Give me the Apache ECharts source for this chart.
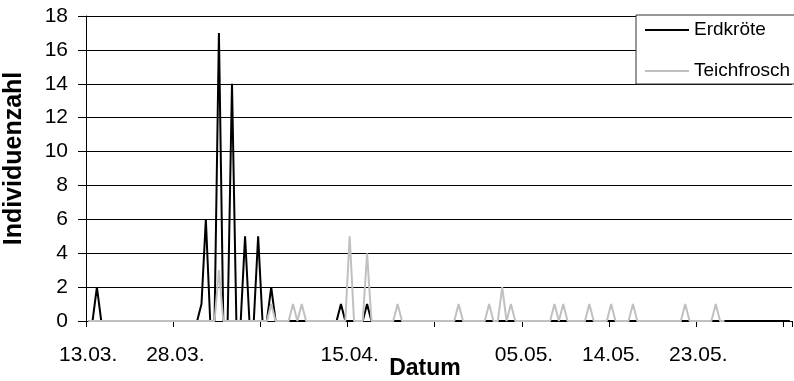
<!DOCTYPE html>
<html>
<head>
<meta charset="utf-8">
<script src="https://cdn.jsdelivr.net/npm/echarts@6/dist/echarts.min.js"></script>
<style>
  html, body { margin: 0; padding: 0; background: #fff; }
  #chart { width: 794px; height: 381px; }
</style>
</head>
<body>
<div id="chart"></div>
<script>
// labels under every 20th category (tick marks)
var tickLabels = ["13.03.", "28.03.", "", "15.04.", "", "05.05.", "14.05.", "23.05.", ""];

// one value per category, 20 per row
var erdkroete = [
  0, 0, 2, 0, 0, 0, 0, 0, 0, 0, 0, 0, 0, 0, 0, 0, 0, 0, 0, 0,
  0, 0, 0, 0, 0, 0, 1, 6, 0, 0, 17, 0, 0, 14, 0, 0, 5, 0, 0, 5,
  0, 0, 2, 0, 0, 0, 0, 0, 0, 0, 0, 0, 0, 0, 0, 0, 0, 0, 1, 0,
  0, 0, 0, 0, 1, 0, 0, 0, 0, 0, 0, 0, 0, 0, 0, 0, 0, 0, 0, 0,
  0, 0, 0, 0, 0, 0, 0, 0, 0, 0, 0, 0, 0, 0, 0, 0, 0, 0, 0, 0,
  0, 0, 0, 0, 0, 0, 0, 0, 0, 0, 0, 0, 0, 0, 0, 0, 0, 0, 0, 0,
  0, 0, 0, 0, 0, 0, 0, 0, 0, 0, 0, 0, 0, 0, 0, 0, 0, 0, 0, 0,
  0, 0, 0, 0, 0, 0, 0, 0, 0, 0, 0, 0, 0, 0, 0, 0, 0, 0, 0, 0,
  0, 0
];
var teichfrosch = [
  0, 0, 0, 0, 0, 0, 0, 0, 0, 0, 0, 0, 0, 0, 0, 0, 0, 0, 0, 0,
  0, 0, 0, 0, 0, 0, 0, 0, 0, 0, 3, 0, 0, 0, 0, 0, 0, 0, 0, 0,
  0, 0, 1, 0, 0, 0, 0, 1, 0, 1, 0, 0, 0, 0, 0, 0, 0, 0, 0, 0,
  5, 0, 0, 0, 4, 0, 0, 0, 0, 0, 0, 1, 0, 0, 0, 0, 0, 0, 0, 0,
  0, 0, 0, 0, 0, 1, 0, 0, 0, 0, 0, 0, 1, 0, 0, 2, 0, 1, 0, 0,
  0, 0, 0, 0, 0, 0, 0, 1, 0, 1, 0, 0, 0, 0, 0, 1, 0, 0, 0, 0,
  1, 0, 0, 0, 0, 1, 0, 0, 0, 0, 0, 0, 0, 0, 0, 0, 0, 1, 0, 0,
  0, 0, 0, 0, 1, 0, 0
];
var categories = erdkroete.map(function (v, i) { return String(i); });

var font = "Liberation Sans, Arial, sans-serif";
var chart = echarts.init(document.getElementById("chart"));

var option = {
  animation: false,
  textStyle: { fontFamily: font, color: "#000" },
  legend: {
    orient: "vertical",
    left: 636,
    top: 15,
    padding: [5, 60, 3, 9],
    itemGap: 21,
    itemWidth: 44,
    itemHeight: 2,
    icon: "rect",
    backgroundColor: "#fff",
    borderColor: "#333",
    borderWidth: 1,
    borderRadius: 0,
    textStyle: { fontFamily: font, fontSize: 19, color: "#000", lineHeight: 20 },
    data: ["Erdkröte", "Teichfrosch"],
  },
  grid: {
    left: 86,
    top: 16,
    right: 2,
    bottom: 60,
    containLabel: false,
    outerBoundsMode: "none",
  },
  xAxis: {
    type: "category",
    boundaryGap: true,
    data: categories,
    name: "Datum",
    nameLocation: "middle",
    nameGap: 36,
    nameMoveOverlap: false,
    nameTextStyle: {
      fontFamily: font,
      fontSize: 23,
      fontWeight: "bold",
      color: "#000",
      padding: [0, 28, 0, 0],
    },
    axisLine: { show: true, lineStyle: { color: "#000", width: 1 } },
    axisTick: {
      show: true,
      length: 6,
      interval: function (index) { return index % 20 === 0; },
      lineStyle: { color: "#000" },
    },
    axisLabel: {
      show: true,
      margin: 24,
      fontSize: 21,
      color: "#000",
      interval: function (index) { return index % 20 === 0; },
      formatter: function (value, index) { return tickLabels[index / 20] || ""; },
    },
    splitLine: { show: false },
  },
  yAxis: {
    type: "value",
    min: 0,
    max: 18,
    interval: 2,
    name: "Individuenzahl",
    nameLocation: "middle",
    nameGap: 59,
    nameMoveOverlap: false,
    nameTextStyle: {
      fontFamily: font,
      fontSize: 25,
      fontWeight: "bold",
      color: "#000",
      padding: [0, 0, 0, 20],
    },
    axisLine: { show: true, lineStyle: { color: "#000", width: 1 } },
    axisTick: { show: true, length: 8, lineStyle: { color: "#000" } },
    axisLabel: { margin: 18, fontSize: 21, color: "#000" },
    splitLine: { show: true, lineStyle: { color: "#000", width: 1 } },
  },
  series: [
    {
      name: "Erdkröte",
      type: "line",
      symbol: "none",
      lineStyle: { color: "#000", width: 2 },
      itemStyle: { color: "#000" },
      data: erdkroete,
    },
    {
      name: "Teichfrosch",
      type: "line",
      symbol: "none",
      lineStyle: { color: "#c0c0c0", width: 2 },
      itemStyle: { color: "#c0c0c0" },
      data: teichfrosch,
    },
  ],
};
chart.setOption(option);
</script>
</body>
</html>
